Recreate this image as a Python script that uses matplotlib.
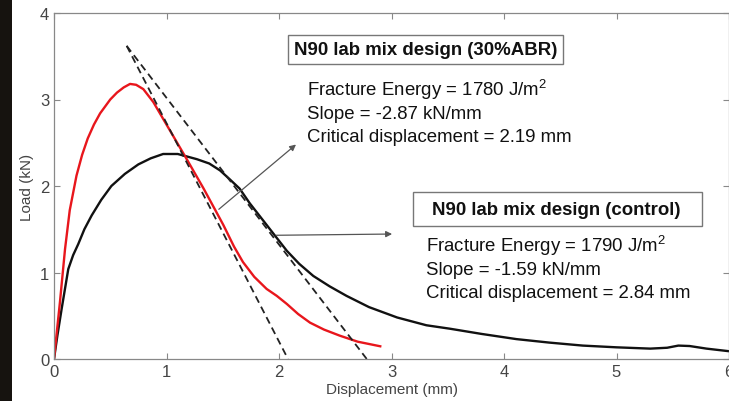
import matplotlib
matplotlib.use("Agg")
import matplotlib.pyplot as plt
from matplotlib.patches import Rectangle

plt.rcParams['font.family'] = ['Liberation Sans', 'DejaVu Sans']
plt.rcParams['mathtext.fontset'] = 'custom'
plt.rcParams['mathtext.rm'] = 'Liberation Sans'

# 30%ABR mix (red)
abr_x = [0, 0.02, 0.053, 0.098, 0.14, 0.2, 0.25, 0.3, 0.355, 0.41, 0.5, 0.56,
         0.62, 0.676, 0.73, 0.794, 0.883, 1.0, 1.18, 1.33, 1.476, 1.505, 1.6,
         1.68, 1.78, 1.89, 1.98, 2.07, 2.17, 2.276, 2.4, 2.54, 2.7, 2.9]
abr_y = [0, 0.25, 0.66, 1.27, 1.72, 2.12, 2.36, 2.55, 2.71, 2.84, 3.0, 3.08,
         3.14, 3.18, 3.17, 3.12, 2.97, 2.71, 2.31, 1.97, 1.62, 1.55, 1.3,
         1.12, 0.95, 0.81, 0.73, 0.636, 0.52, 0.42, 0.34, 0.27, 0.2, 0.147]

# control mix (black)
ctl_x = [0, 0.03, 0.068, 0.127, 0.17, 0.216, 0.27, 0.335, 0.42, 0.51, 0.63,
         0.75, 0.86, 0.97, 1.1, 1.27, 1.38, 1.476, 1.56, 1.65, 1.74, 1.89,
         2.07, 2.18, 2.305, 2.45, 2.6, 2.8, 3.05, 3.31, 3.52, 3.8, 4.11, 4.4,
         4.7, 5.0, 5.3, 5.45, 5.55, 5.65, 5.8, 6.0]
ctl_y = [0, 0.27, 0.58, 1.04, 1.2, 1.33, 1.5, 1.66, 1.84, 2.0, 2.14,
         2.25, 2.32, 2.37, 2.37, 2.31, 2.26, 2.18, 2.08, 1.97, 1.8, 1.55,
         1.25, 1.1, 0.96, 0.84, 0.73, 0.6, 0.48, 0.39, 0.35, 0.29, 0.23, 0.19,
         0.155, 0.135, 0.12, 0.13, 0.155, 0.15, 0.12, 0.09]

# post-peak slope lines
fit_abr_x = [0.646, 2.08]
fit_abr_y = [3.62, 0.0]
fit_ctl_x = [0.646, 2.78]
fit_ctl_y = [3.62, 0.0]

abr_title = 'N90 lab mix design (30%ABR)'
abr_lines = ['Fracture Energy = 1780 J/m$^\\mathregular{2}$',
             'Slope = -2.87 kN/mm',
             'Critical displacement = 2.19 mm']
ctl_title = 'N90 lab mix design (control)'
ctl_lines = ['Fracture Energy = 1790 J/m$^\\mathregular{2}$',
             'Slope = -1.59 kN/mm',
             'Critical displacement = 2.84 mm']

fig = plt.figure(figsize=(7.29, 4.02), dpi=100)
fig.patches.append(Rectangle((0, 0), 12 / 729, 1, transform=fig.transFigure,
                             facecolor='#16130f', edgecolor='none', zorder=-1))
ax = fig.add_axes([54 / 729, 42 / 402, 675 / 729, 346 / 402])

ax.plot(ctl_x, ctl_y, color='#111111', lw=1.7)
ax.plot(abr_x, abr_y, color='#e8161c', lw=1.7)
ax.plot(fit_abr_x, fit_abr_y, color='#222222', lw=1.3, dashes=(4, 2.5))
ax.plot(fit_ctl_x, fit_ctl_y, color='#222222', lw=1.3, dashes=(4, 2.5))

ax.set_xlim(0, 6)
ax.set_ylim(0, 4)
ax.set_xticks(range(7))
ax.set_yticks(range(5))
ax.tick_params(direction='in', length=4, width=0.8, colors='#888888',
               labelcolor='#444444', labelsize=12, top=True, right=True)
for s in ax.spines.values():
    s.set_color('#888888')
    s.set_linewidth(0.9)
ax.set_xlabel('Displacement (mm)', fontsize=11, color='#444444', labelpad=2)
ax.set_ylabel('Load (kN)', fontsize=11, color='#444444', labelpad=4)

# boxed titles
ax.add_patch(Rectangle((2.083, 3.41), 2.445, 0.339, facecolor='white',
                       edgecolor='#777777', lw=1.0))
ax.text(3.305, 3.58, abr_title, ha='center', va='center', fontsize=13.4,
        fontweight='bold', color='#111111')
ax.add_patch(Rectangle((3.191, 1.541), 2.566, 0.386, facecolor='white',
                       edgecolor='#777777', lw=1.0))
ax.text(4.468, 1.734, ctl_title, ha='center', va='center', fontsize=13.4,
        fontweight='bold', color='#111111')

for i, line in enumerate(abr_lines):
    ax.text(2.25, 3.05 - i * 0.266, line, ha='left', va='baseline',
            fontsize=13.4, color='#111111')
for i, line in enumerate(ctl_lines):
    ax.text(3.31, 1.25 - i * 0.266, line, ha='left', va='baseline',
            fontsize=13.4, color='#111111')

# pointer arrows
arrow = dict(arrowstyle='-|>', color='#555555', lw=0.9, mutation_scale=9)
ax.annotate('', xy=(2.17, 2.5), xytext=(1.446, 1.71), arrowprops=arrow)
ax.annotate('', xy=(3.03, 1.445), xytext=(1.95, 1.43), arrowprops=arrow)

fig.savefig('out.png', dpi=100)
